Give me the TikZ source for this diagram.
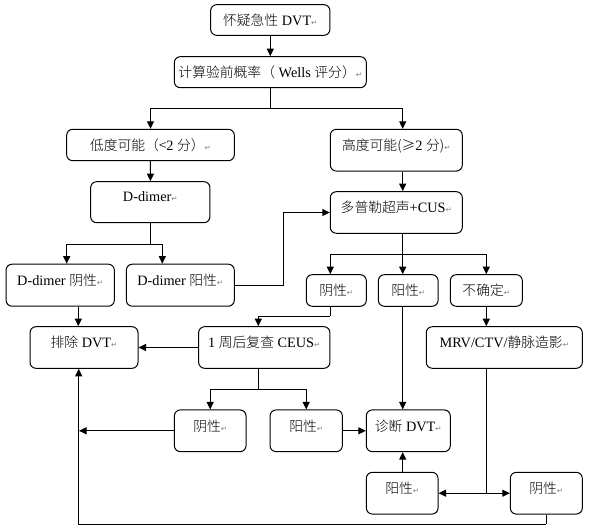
\documentclass[tikz,border=0pt]{standalone}
\usepackage{fontspec}
\setmainfont{Liberation Serif}
\newfontfamily\cjk{Noto Sans CJK SC Light}
\newfontfamily\symf{DejaVu Sans}
\usetikzlibrary{arrows.meta}
\newcommand\parmark{{\symf\fontsize{7.5}{8}\selectfont\textcolor{gray}{↵}}}
\newcommand\zh[1]{{\cjk\fontsize{13.8}{16}\selectfont #1}}
\begin{document}
\begin{tikzpicture}[x=1pt,y=-1pt,
 box/.style={draw, rounded corners=6pt, line width=1pt, inner sep=1pt, align=center, font=\fontsize{14.3}{16}\selectfont},
 up/.style={text depth=11pt},
 arr/.style={line width=1pt, -{Triangle[length=7.5pt,width=7pt]}},
 ln/.style={line width=1pt},
 darr/.style={line width=1pt, {Triangle[length=7.5pt,width=7pt]}-{Triangle[length=7.5pt,width=7pt]}}]
\fill[white] (0,0) rectangle (589,529);
\useasboundingbox (0,0) rectangle (589,529);

\node[box, minimum width=119.3pt, minimum height=30.6pt] (n1) at (270.3,20) {\zh{怀疑急性} DVT\parmark};
\node[box, minimum width=192pt, minimum height=31pt] (n2) at (270.3,72.2) {\zh{计算验前概率（} Wells \zh{评分）}\parmark};
\node[box, minimum width=167.7pt, minimum height=31.4pt] (n3) at (150.5,145) {\zh{低度可能（}\zh{<}2 \zh{分）}\parmark};
\node[box, up, minimum width=132pt, minimum height=41.7pt] (n4) at (396.3,150.2) {\zh{高度可能(≥}2 \zh{分)}\parmark};
\node[box, up, minimum width=119.3pt, minimum height=41pt] (n5) at (150.3,202.2) {D-dimer\parmark};
\node[box, up, minimum width=132pt, minimum height=41.6pt] (n6) at (396.3,212.5) {\zh{多普勒超声}+CUS\parmark};
\node[box, up, minimum width=108.3pt, minimum height=42pt] (n7) at (60.2,285.2) {D-dimer \zh{阴性}\parmark};
\node[box, up, minimum width=108pt, minimum height=42pt] (n8) at (180.3,285.2) {D-dimer \zh{阳性}\parmark};
\node[box, minimum width=60pt, minimum height=31.6pt] (n9) at (336.3,290.5) {\zh{阴性}\parmark};
\node[box, minimum width=59.7pt, minimum height=31.6pt] (n10) at (408.2,290.5) {\zh{阳性}\parmark};
\node[box, minimum width=72pt, minimum height=31.6pt] (n11) at (486.3,290.5) {\zh{不确定}\parmark};
\node[box, up, minimum width=108pt, minimum height=41.6pt] (n12) at (84,347.5) {\zh{排除} DVT\parmark};
\node[box, up, minimum width=131.3pt, minimum height=41.6pt] (n13) at (264.3,347.5) {1 \zh{周后复查} CEUS\parmark};
\node[box, up, minimum width=156pt, minimum height=41.6pt] (n14) at (504.3,347.5) {MRV/CTV/\zh{静脉造影}\parmark};
\node[box, up, minimum width=71.7pt, minimum height=41.7pt] (n15) at (210.2,430.8) {\zh{阴性}\parmark};
\node[box, up, minimum width=72.3pt, minimum height=41.7pt] (n16) at (306.2,430.8) {\zh{阳性}\parmark};
\node[box, up, minimum width=84pt, minimum height=41.7pt] (n17) at (408.3,430.8) {\zh{诊断} DVT\parmark};
\node[box, up, minimum width=71.7pt, minimum height=41.7pt] (n18) at (402.2,493.2) {\zh{阳性}\parmark};
\node[box, up, minimum width=72pt, minimum height=41.7pt] (n19) at (546.3,493.2) {\zh{阴性}\parmark};

\coordinate (j1) at (270.3,108.3);
\coordinate (j2) at (150.3,244.3);
\coordinate (j3) at (402.7,254.3);
\coordinate (j5) at (330.3,316.3);
\coordinate (j4) at (258.3,389.3);
\coordinate (j6) at (486.3,493.2);
\coordinate (c1) at (79,430.8);
\coordinate (j7) at (546.3,524);

\draw[arr] (n1) -- (n2);
\draw[ln] (n2.south) -- (j1);
\draw[arr] (j1) -| (n3.north);
\draw[arr] (j1) -| ([xshift=6.4pt]n4.north);
\draw[arr] (n3) -- (n5);
\draw[arr] ([xshift=6.4pt]n4.south) -- ([xshift=6.4pt]n6.north);
\draw[ln] (n5.south) -- (j2);
\draw[arr] (j2) -| ([xshift=6.5pt]n7.north);
\draw[arr] (j2) -| ([xshift=-18pt]n8.north);
\draw[arr] (n8.east) -- ++(48.4,0) |- (n6.west);
\draw[ln] ([xshift=6.4pt]n6.south) -- (j3);
\draw[arr] (j3) -| ([xshift=-6pt]n9.north);
\draw[arr] (j3) -| ([xshift=-5.5pt]n10.north);
\draw[arr] (j3) -| (n11.north);
\draw[arr] ([xshift=18.1pt]n7.south) -- ([xshift=-5.7pt]n12.north);
\draw[ln] ([xshift=-6pt]n9.south) -- (j5);
\draw[arr] (j5) -| ([xshift=-6pt]n13.north);
\draw[arr] (n11.south) -- ([xshift=-18pt]n14.north);
\draw[arr] (n13.west) -- (n12.east);
\draw[arr] ([xshift=-5.5pt]n10.south) -- ([xshift=-5.6pt]n17.north);
\draw[ln] ([xshift=-6pt]n13.south) -- (j4);
\draw[arr] (j4) -| (n15.north);
\draw[arr] (j4) -| (n16.north);
\draw[arr] (n15.west) -- (c1);
\draw[arr] (n16.east) -- (n17.west);
\draw[arr] ([xshift=0.5pt]n18.north) -- ([xshift=-5.6pt]n17.south);
\draw[ln] ([xshift=-18pt]n14.south) -- (j6);
\draw[darr] (n18.east) -- (n19.west);
\draw[ln] (n19.south) -- (j7);
\draw[arr] (j7) -| ([xshift=-5.3pt]n12.south);
\end{tikzpicture}
\end{document}
